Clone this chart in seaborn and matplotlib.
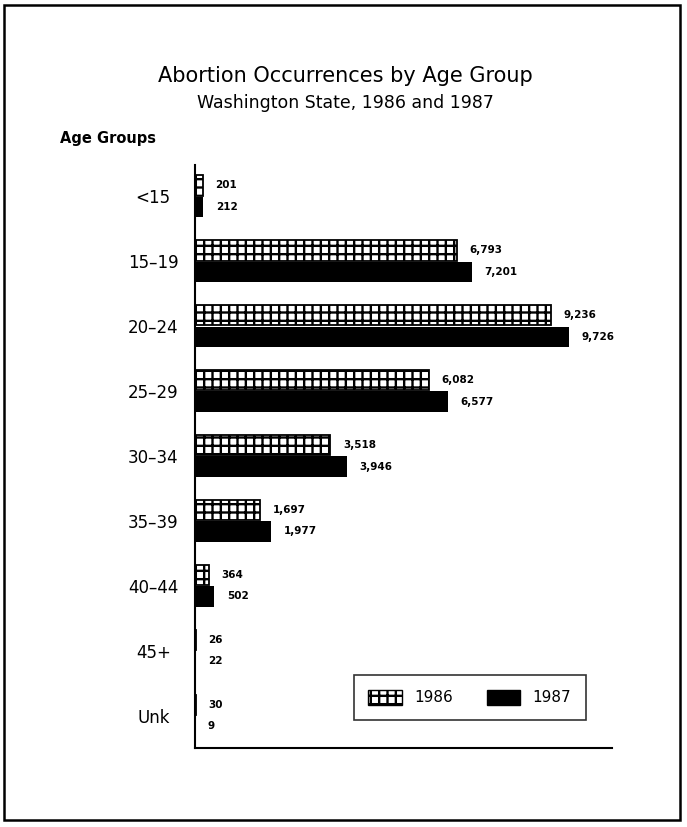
import matplotlib
matplotlib.use("Agg")
import matplotlib.pyplot as plt
from matplotlib.patches import Rectangle, Patch
import seaborn as sns
import pandas as pd

# data
age_groups = ["<15", "15\u201319", "20\u201324", "25\u201329", "30\u201334",
              "35\u201339", "40\u201344", "45+", "Unk"]
years = ["1986", "1987"]
counts_1986 = [201, 6793, 9236, 6082, 3518, 1697, 364, 26, 30]
counts_1987 = [212, 7201, 9726, 6577, 3946, 1977, 502, 22, 9]

df = pd.DataFrame({
    "age": age_groups * 2,
    "year": [years[0]] * len(age_groups) + [years[1]] * len(age_groups),
    "count": counts_1986 + counts_1987,
})

sns.set_style("white")
plt.rcParams["font.family"] = ["DejaVu Sans"]
plt.rcParams["text.color"] = "black"
plt.rcParams["ytick.color"] = "black"
plt.rcParams["ytick.labelcolor"] = "black"
plt.rcParams["hatch.linewidth"] = 1.7

fig = plt.figure(figsize=(6.87, 8.27), dpi=100)
ax = fig.add_axes([0.2838, 0.0955, 0.607, 0.705])

sns.barplot(data=df, y="age", x="count", hue="year", order=age_groups,
            hue_order=years, palette={"1986": "white", "1987": "black"},
            orient="h", width=0.66, gap=0.05, legend=False, ax=ax)

for bar in ax.containers[0]:
    bar.set_hatch("++")
    bar.set_edgecolor("black")
    bar.set_linewidth(1.3)
for bar in ax.containers[1]:
    bar.set_linewidth(0)

ax.bar_label(ax.containers[0], labels=[f"{v:,}" for v in counts_1986],
             padding=9, fontsize=7.5, fontweight="bold")
ax.bar_label(ax.containers[1], labels=[f"{v:,}" for v in counts_1987],
             padding=9, fontsize=7.5, fontweight="bold")

ax.set_xlim(0, 10830)
ax.set_ylim(8.5, -0.48)
ax.set_xlabel("")
ax.set_ylabel("")
ax.set_xticks([])
ax.tick_params(axis="y", length=0, labelsize=12, pad=30)
for lbl in ax.get_yticklabels():
    lbl.set_horizontalalignment("center")
for side in ["top", "right"]:
    ax.spines[side].set_visible(False)
for side in ["left", "bottom"]:
    ax.spines[side].set_color("black")
    ax.spines[side].set_linewidth(1.5)

handles = [Patch(facecolor="white", edgecolor="black", hatch="++", label="1986"),
           Patch(facecolor="black", edgecolor="black", label="1987")]
leg = ax.legend(handles=handles, loc="lower right", ncol=2, fontsize=11,
                frameon=True, fancybox=False,
                bbox_to_anchor=(0.955, 0.035), handlelength=2.2,
                handleheight=1.1, columnspacing=2.2, borderpad=0.95)
leg.get_frame().set_linewidth(1.2)
leg.get_frame().set_edgecolor("black")

fig.text(0.503, 0.908, "Abortion Occurrences by Age Group",
         ha="center", va="center", fontsize=15)
fig.text(0.503, 0.876, "Washington State, 1986 and 1987",
         ha="center", va="center", fontsize=12.5)
fig.text(0.087, 0.833, "Age Groups", ha="left", va="center",
         fontsize=10.5, fontweight="bold")

fig.add_artist(Rectangle((0.006, 0.008), 0.984, 0.986, transform=fig.transFigure,
                         fill=False, edgecolor="black", linewidth=1.8))

fig.savefig("out.png", dpi=100)
